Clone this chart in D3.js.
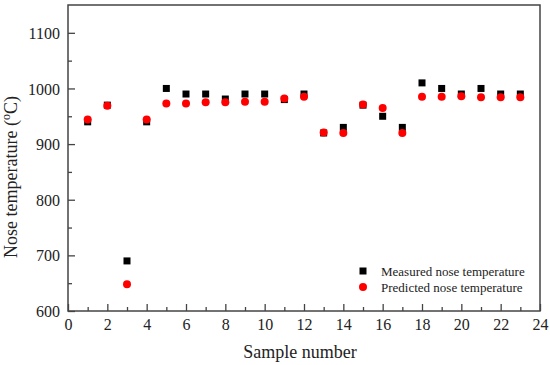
<!DOCTYPE html>
<html>
<head>
<meta charset="utf-8">
<script src="https://cdn.jsdelivr.net/npm/d3@7"></script>
<style>
  body { margin: 0; background: #fff; }
</style>
</head>
<body>
<div id="chart"></div>
<script>
// Data
const samples = [1, 2, 3, 4, 5, 6, 7, 8, 9, 10, 11, 12, 13, 14, 15, 16, 17, 18, 19, 20, 21, 22, 23];
const measured = [940, 970, 690, 940, 1000, 990, 990, 981, 990, 990, 980, 990, 920, 930, 970, 950, 930, 1010, 1000, 990, 1000, 990, 990];
const predicted = [944, 969, 648, 944, 973, 973, 975, 975, 976, 976, 982, 985, 921, 920, 971, 965, 920, 985, 985, 986, 984, 984, 984];
const xTicks = [0, 2, 4, 6, 8, 10, 12, 14, 16, 18, 20, 22, 24];
const yTicks = [600, 700, 800, 900, 1000, 1100];

const width = 550, height = 365;
const margin = { top: 5, right: 10, bottom: 54, left: 68 };
const innerWidth = width - margin.left - margin.right;
const innerHeight = height - margin.top - margin.bottom;
const axisColor = "#444";
const serif = "'Liberation Serif', serif";

const svg = d3.select("#chart")
    .append("svg")
    .attr("width", width)
    .attr("height", height);

const g = svg.append("g")
    .attr("transform", `translate(${margin.left}, ${margin.top})`);

// scales
const x = d3.scaleLinear().domain([0, 24]).range([0, innerWidth]);
const y = d3.scaleLinear().domain([600, 1150]).range([innerHeight, 0]);

// frame
g.append("rect")
    .attr("width", innerWidth)
    .attr("height", innerHeight)
    .attr("fill", "none")
    .attr("stroke", axisColor)
    .attr("stroke-width", 1.5);

// minor ticks (inward), no labels
const xMinor = d3.range(1, 24, 2);
const yMinor = d3.range(650, 1150, 100);
g.append("g")
    .attr("transform", `translate(0, ${innerHeight})`)
    .call(d3.axisTop(x).tickValues(xMinor).tickSize(4))
    .call(a => a.select(".domain").remove())
    .call(a => a.selectAll("text").remove())
    .selectAll("line").attr("stroke", axisColor).attr("stroke-width", 1.3);
g.append("g")
    .call(d3.axisRight(y).tickValues(yMinor).tickSize(4))
    .call(a => a.select(".domain").remove())
    .call(a => a.selectAll("text").remove())
    .selectAll("line").attr("stroke", axisColor).attr("stroke-width", 1.3);

// major x axis
const xAxis = g.append("g")
    .attr("transform", `translate(0, ${innerHeight})`)
    .call(d3.axisTop(x).tickValues(xTicks).tickSize(7).tickFormat(d3.format("d")));
xAxis.select(".domain").remove();
xAxis.selectAll("line").attr("stroke", axisColor).attr("stroke-width", 1.3);
xAxis.selectAll("text")
    .attr("y", 19)
    .attr("dy", 0)
    .attr("font-family", serif)
    .attr("font-size", 16)
    .attr("fill", "#222");

// major y axis
const yAxis = g.append("g")
    .call(d3.axisRight(y).tickValues(yTicks).tickSize(7).tickFormat(d3.format("d")));
yAxis.select(".domain").remove();
yAxis.selectAll("line").attr("stroke", axisColor).attr("stroke-width", 1.3);
yAxis.selectAll("text")
    .attr("x", -8)
    .attr("dy", "0.35em")
    .attr("text-anchor", "end")
    .attr("font-family", serif)
    .attr("font-size", 16)
    .attr("fill", "#222");

// axis titles
svg.append("text")
    .attr("x", 300)
    .attr("y", 358)
    .attr("text-anchor", "middle")
    .attr("font-family", serif)
    .attr("font-size", 18)
    .attr("fill", "#222")
    .text("Sample number");

const yTitle = svg.append("text")
    .attr("transform", "translate(17, 177) rotate(-90)")
    .attr("text-anchor", "middle")
    .attr("font-family", serif)
    .attr("font-size", 18)
    .attr("fill", "#222");
yTitle.append("tspan").text("Nose temperature (");
yTitle.append("tspan").attr("dy", -7).attr("font-size", 12).text("o");
yTitle.append("tspan").attr("dy", 7).text("C)");

// measured: squares
const sq = 7;
g.selectAll(".measured")
    .data(samples)
    .enter().append("rect")
    .attr("class", "measured")
    .attr("x", d => x(d) - sq / 2)
    .attr("y", (d, i) => y(measured[i]) - sq / 2)
    .attr("width", sq)
    .attr("height", sq)
    .attr("fill", "#000");

// predicted: circles
g.selectAll(".predicted")
    .data(samples)
    .enter().append("circle")
    .attr("class", "predicted")
    .attr("cx", d => x(d))
    .attr("cy", (d, i) => y(predicted[i]))
    .attr("r", 4)
    .attr("fill", "#ff0000");

// legend
const legend = svg.append("g").attr("transform", "translate(363, 271)");
legend.append("rect")
    .attr("x", -3.5).attr("y", -3.5)
    .attr("width", 7).attr("height", 7)
    .attr("fill", "#000");
legend.append("text")
    .attr("x", 18).attr("y", 4.5)
    .attr("font-family", serif)
    .attr("font-size", 13)
    .attr("fill", "#222")
    .text("Measured nose temperature");
legend.append("circle")
    .attr("cx", 0).attr("cy", 16)
    .attr("r", 4)
    .attr("fill", "#ff0000");
legend.append("text")
    .attr("x", 18).attr("y", 20.5)
    .attr("font-family", serif)
    .attr("font-size", 13)
    .attr("fill", "#222")
    .text("Predicted nose temperature");
</script>
</body>
</html>
